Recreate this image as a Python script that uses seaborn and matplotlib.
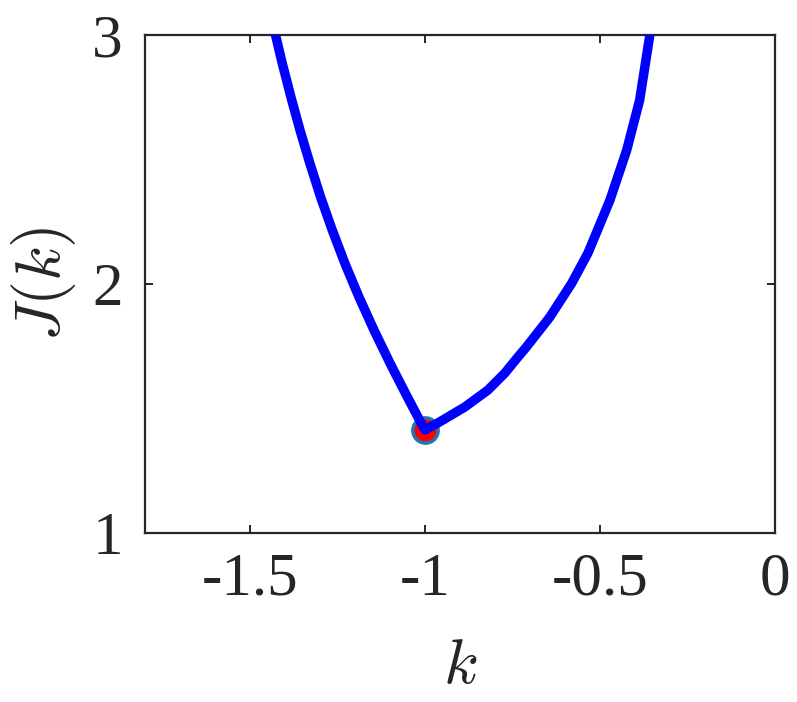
import numpy as np
import pandas as pd
import matplotlib
matplotlib.use("Agg")
import matplotlib.pyplot as plt
import seaborn as sns

# values (left branch, then right branch)
k_vals = [-1.427, -1.408, -1.383, -1.357, -1.329, -1.298, -1.266, -1.229, -1.1885, -1.1455,
          -1.100, -1.050, -1.005, -1.0,
          -0.963, -0.886, -0.820, -0.771, -0.734, -0.710, -0.643, -0.580, -0.534, -0.471,
          -0.423, -0.386, -0.357]
J_vals = [3.0, 2.888, 2.751, 2.618, 2.486, 2.349, 2.221, 2.084, 1.948, 1.815,
          1.683, 1.546, 1.426, 1.414,
          1.442, 1.506, 1.574, 1.643, 1.707, 1.747, 1.867, 2.004, 2.124, 2.337,
          2.538, 2.739, 3.0]
k_min = [-1.0]
J_min = [1.414]

x_ticks = [-1.5, -1, -0.5, 0]
x_ticklabels = ["-1.5", "-1", "-0.5", "0"]
y_ticks = [1, 2, 3]

df = pd.DataFrame({"k": k_vals, "J": J_vals})

sns.set_theme(style="white")
plt.rcParams["font.family"] = "serif"
plt.rcParams["font.serif"] = ["Liberation Serif", "DejaVu Serif"]
plt.rcParams["mathtext.fontset"] = "cm"

fig = plt.figure(figsize=(7.97, 7.02), dpi=100)
ax = fig.add_axes([0.182, 0.2407, 0.790, 0.7093])

ax.scatter(k_min, J_min, s=330, color="red", edgecolor="#1f77b4", linewidth=2.5, zorder=2)
sns.lineplot(data=df, x="k", y="J", sort=False, color="blue", linewidth=6.8, ax=ax, zorder=3,
             solid_capstyle="round", solid_joinstyle="round")

ax.set_xlim(-1.8, 0)
ax.set_ylim(1, 3)
ax.set_xticks(x_ticks)
ax.set_xticklabels(x_ticklabels)
ax.set_yticks(y_ticks)
ax.tick_params(direction="in", length=6, width=1.4, colors="#262626", labelsize=44,
               top=True, right=True, bottom=True, left=True)
ax.tick_params(axis="x", pad=14)
ax.tick_params(axis="y", pad=16)
for sp in ax.spines.values():
    sp.set_linewidth(1.6)
    sp.set_color("#262626")

ax.set_xlabel("$k$", fontsize=46, labelpad=22, color="#262626")
ax.set_ylabel("$J(k)$", fontsize=46, labelpad=10, color="#262626")

fig.savefig("out.png", dpi=100)
